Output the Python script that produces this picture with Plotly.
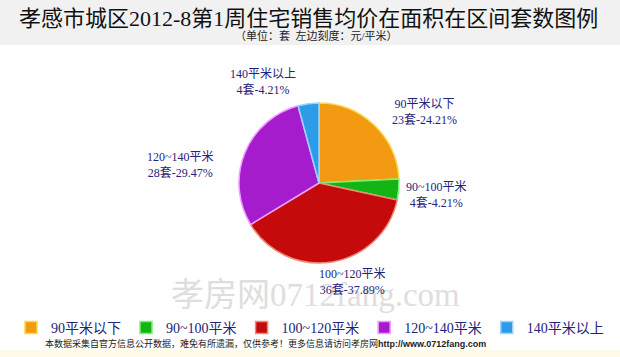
import plotly.graph_objects as go

# ---- data ----
categories = ["90平米以下", "90~100平米", "100~120平米", "120~140平米", "140平米以上"]
counts = [23, 4, 36, 28, 4]
colors = ["#f29a12", "#14b414", "#c40a0a", "#a41ccc", "#2c9ce8"]
edge_colors = ["#ffd84a", "#7cf07c", "#f08a78", "#ee9cff", "#9cd4ff"]

title_text = "孝感市城区2012-8第1周住宅销售均价在面积在区间套数图例"
subtitle_text = "（单位：套  左边刻度：元/平米）"
footer_text = "本数据采集自官方信息公开数据，难免有所遗漏，仅供参考！更多信息请访问孝房网<b>http://www.0712fang.com</b>"
watermark_text = "孝房网0712fang.com"

# label anchor positions (pixels, layout only)
label_pos = [(425, 112), (436, 195), (352, 282), (180, 165), (263, 82)]

W, H = 620, 357
total = sum(counts)
label_texts = [f"{c}<br>{n}套-{n / total * 100:.2f}%" for c, n in zip(categories, counts)]


def px(x):
    return x / W


def py(y):
    return 1 - y / H


fig = go.Figure()
fig.add_trace(go.Pie(
    labels=categories,
    values=counts,
    sort=False,
    direction="clockwise",
    rotation=0,
    textinfo="none",
    hoverinfo="label+value+percent",
    marker=dict(colors=colors, line=dict(color=edge_colors, width=1.5)),
    domain=dict(x=[px(239), px(399)], y=[py(263), py(103)]),
))

serif_cjk = "Liberation Serif, Noto Sans CJK SC"
label_font = dict(family=serif_cjk, size=12, color="#23237a")


def ann(text, x, y, font, **kw):
    d = dict(text=text, x=px(x), y=py(y), xref="paper", yref="paper", showarrow=False,
             xanchor="center", yanchor="middle", font=font)
    d.update(kw)
    return d


annotations = [
    ann(watermark_text, 315, 295, dict(family=serif_cjk, size=33, color="#dedede")),
    ann(title_text, 308, 18, dict(family=serif_cjk, size=22, color="#111111")),
    ann(subtitle_text, 316, 36, dict(family=serif_cjk, size=11, color="#222222")),
    ann(footer_text, 265, 343, dict(family="Liberation Sans, Noto Sans CJK SC", size=9, color="#222222")),
]
for t, (x, y) in zip(label_texts, label_pos):
    annotations.append(ann(t, x, y, label_font, align="center"))

fig.update_layout(
    width=W, height=H,
    margin=dict(l=0, r=0, t=0, b=0),
    paper_bgcolor="#ffffff",
    plot_bgcolor="#ffffff",
    showlegend=True,
    legend=dict(orientation="h", x=0.5, xanchor="center", y=py(312), yanchor="top",
                font=dict(family=serif_cjk, size=14, color="#23237a"),
                itemclick=False, bgcolor="rgba(0,0,0,0)", tracegroupgap=0),
    annotations=annotations,
    shapes=[
        dict(type="rect", xref="paper", yref="paper", x0=0, x1=1, y0=py(45), y1=1,
             fillcolor="#f1f1f1", line=dict(width=0), layer="below"),
        dict(type="rect", xref="paper", yref="paper", x0=0, x1=1, y0=0, y1=py(350),
             fillcolor="#fffbe6", line=dict(width=0), layer="below"),
    ],
)

fig.write_html("out.html", config={"displayModeBar": False},
               post_script="document.body.style.margin='0';document.body.style.overflow='hidden';")
